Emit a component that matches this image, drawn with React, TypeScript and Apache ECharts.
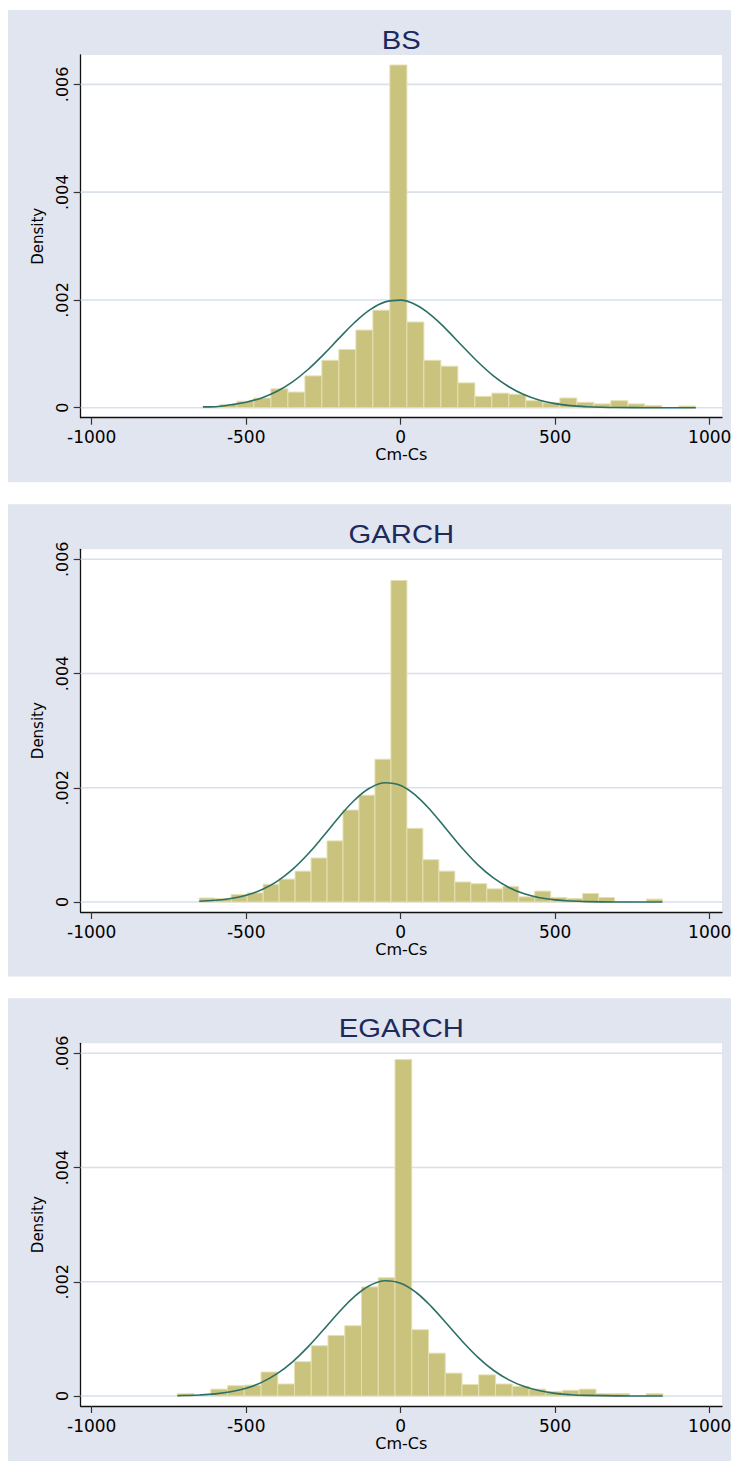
import React, { useEffect, useRef } from "react";
import * as echarts from "echarts";

// ---------- data ----------
const panelTitles = ["BS", "GARCH", "EGARCH"];
const xAxisName = "Cm-Cs";
const yAxisName = "Density";
const xTicks = [-1000, -500, 0, 500, 1000];
const yTicks = [0, 0.002, 0.004, 0.006];
const yTickLabels = ["0", ".002", ".004", ".006"];

// histogram bins: first edge and width of each bin (Cm-Cs units)
const binStarts = [-640, -652, -723];
const binWidths = [55, 51.7, 54.2];

const bsDensity = [
  0.00002, 0.00006, 0.00012, 0.00018, 0.00035, 0.00029, 0.00059, 0.00088, 0.00108, 0.00144,
  0.00181, 0.00636, 0.00159, 0.00088, 0.00077, 0.00046, 0.00021, 0.00027, 0.00025, 0.00013,
  0.00009, 0.00018, 0.0001, 0.00007, 0.00013, 0.00007, 0.00004, 0, 0.00003,
];
const garchDensity = [
  0.00007, 0.00006, 0.00013, 0.00016, 0.00031, 0.0004, 0.00054, 0.00077, 0.00107, 0.00161,
  0.00187, 0.0025, 0.00563, 0.00129, 0.00074, 0.00054, 0.00035, 0.00032, 0.00023, 0.00027,
  0.00009, 0.00019, 0.00008, 0.00006, 0.00015, 0.00008, 0.00001, 0, 0.00005,
];
const egarchDensity = [
  0.00004, 0, 0.00012, 0.00018, 0.00019, 0.00042, 0.00021, 0.0006, 0.00088, 0.00106,
  0.00123, 0.00191, 0.00207, 0.00589, 0.00116, 0.00075, 0.0004, 0.0002, 0.00037, 0.00021,
  0.00017, 0.00012, 0.00008, 0.0001, 0.00012, 0.00004, 0.00004, 0, 0.00004,
];

// normal density overlays
const bsCurveX = [-640, -600, -550, -500, -450, -400, -350, -300, -250, -200, -150, -100, -50, 0, 50, 100, 150, 200, 250, 300, 350, 400, 450, 500, 550, 600, 650, 700, 800, 955];
const bsCurveY = [0.0000144, 0.0000186, 0.0000537, 0.000102, 0.000182, 0.000305, 0.00048, 0.000709, 0.000985, 0.001286, 0.001576, 0.001815, 0.001964, 0.001996, 0.001906, 0.00171, 0.00144, 0.00114, 0.000848, 0.000592, 0.000389, 0.00024, 0.000139, 0.0000755, 0.0000386, 0.0000186, 0.0000084, 0.0000035, 0.0000004, 0];

const garchCurveX = [-652, -600, -550, -500, -450, -400, -350, -300, -250, -200, -150, -100, -50, 0, 50, 100, 150, 200, 250, 300, 350, 400, 450, 500, 550, 600, 700, 847];
const garchCurveY = [0.0000127, 0.0000293, 0.0000608, 0.000118, 0.000214, 0.000361, 0.00057, 0.000839, 0.001155, 0.001484, 0.001781, 0.001996, 0.002088, 0.00204, 0.00186, 0.001586, 0.001261, 0.000937, 0.000649, 0.000421, 0.000254, 0.000144, 0.0000757, 0.0000373, 0.0000171, 0.0000074, 0.0000011, 0];

const egarchCurveX = [-723, -700, -650, -600, -550, -500, -450, -400, -350, -300, -250, -200, -150, -100, -50, 0, 50, 100, 150, 200, 250, 300, 350, 400, 450, 500, 550, 600, 700, 848];
const egarchCurveY = [0.0000053, 0.0000078, 0.0000177, 0.0000374, 0.000074, 0.000137, 0.000239, 0.000391, 0.000599, 0.000861, 0.00116, 0.001467, 0.00174, 0.001935, 0.002018, 0.001975, 0.001812, 0.00156, 0.001259, 0.000954, 0.000677, 0.000451, 0.000282, 0.000165, 0.0000907, 0.0000467, 0.0000226, 0.0000102, 0.0000017, 0];

const densities = [bsDensity, garchDensity, egarchDensity];
const curvesX = [bsCurveX, garchCurveX, egarchCurveX];
const curvesY = [bsCurveY, garchCurveY, egarchCurveY];

// ---------- styles / layout ----------
const PAGE_W = 739;
const PAGE_H = 1463;
const BG = "#e1e5f0";
const GRIDLINE = "#d9e0ec";
const BAR_FILL = "#cac37d";
const BAR_EDGE = "#e4e0b2";
const CURVE = "#2c6f66";
const TITLE_COLOR = "#1c2a5c";
const FONT = "'DejaVu Sans', 'Liberation Sans', Arial, sans-serif";
const TITLE_FONT = "'Liberation Sans', Arial, sans-serif";

const panelTops = [10, 504.3, 998.3];
const plotLeft = 80.7;
const plotRight = 722;
const innerH = 342.7; // px from 0 to the axis max
const padPx = 10; // Stata plot-region margin
const xMin = -1035.6;
const xMax = 1039.8;

export default function App() {
  const ref = useRef<HTMLDivElement>(null);

  useEffect(() => {
    document.body.style.margin = "0";
    if (!ref.current) return;
    const chart = echarts.init(ref.current, undefined, { renderer: "svg" });

    const grids: any[] = [];
    const xAxes: any[] = [];
    const yAxes: any[] = [];
    const series: any[] = [];
    const graphics: any[] = [];

    for (let i = 0; i < 3; i++) {
      const top = panelTops[i];
      const dens = densities[i];
      const M = Math.max(0.006, Math.max(...dens));
      const pad = (padPx * M) / innerH;

      graphics.push({
        type: "rect",
        z: -10,
        silent: true,
        shape: { x: 8, y: top, width: 723, height: i === 2 ? PAGE_H - 2 - top : 472.3 },
        style: { fill: BG },
      });
      graphics.push({
        type: "text",
        z: 10,
        silent: true,
        x: (plotLeft + plotRight) / 2,
        y: top + 30,
        scaleX: 1.17,
        style: {
          text: panelTitles[i],
          fill: TITLE_COLOR,
          font: `25px ${TITLE_FONT}`,
          textAlign: "center",
          textVerticalAlign: "middle",
        },
      });

      grids.push({
        show: true,
        backgroundColor: "#ffffff",
        borderWidth: 0,
        left: plotLeft,
        width: plotRight - plotLeft,
        top: top + 45,
        height: innerH + 2 * padPx,
      });

      xAxes.push({
        gridIndex: i,
        type: "value",
        min: xMin,
        max: xMax,
        axisLine: { show: true, onZero: false, lineStyle: { color: "#111", width: 1.3 } },
        axisTick: { show: true, length: 7, customValues: xTicks, lineStyle: { color: "#333", width: 1.2 } },
        axisLabel: {
          customValues: xTicks,
          margin: 11,
          fontSize: 17,
          color: "#000",
          fontFamily: FONT,
          formatter: (v: number) => String(v),
        },
        splitLine: { show: false },
        name: xAxisName,
        nameLocation: "middle",
        nameGap: 29,
        nameTextStyle: { fontSize: 16, color: "#000", fontFamily: FONT },
      });

      yAxes.push({
        gridIndex: i,
        type: "value",
        min: -pad,
        max: M + pad,
        axisLine: { show: true, onZero: false, lineStyle: { color: "#111", width: 1.3 } },
        axisTick: { show: true, length: 7, customValues: yTicks, lineStyle: { color: "#333", width: 1.2 } },
        axisLabel: {
          customValues: yTicks,
          rotate: 90,
          margin: 10,
          fontSize: 16,
          color: "#000",
          fontFamily: FONT,
          formatter: (v: number) => {
            const k = yTicks.findIndex((t) => Math.abs(t - v) < 1e-9);
            return k >= 0 ? yTickLabels[k] : "";
          },
        },
        splitLine: { show: false },
        name: yAxisName,
        nameLocation: "middle",
        nameRotate: 90,
        nameGap: 35,
        nameTextStyle: { fontSize: 15, color: "#000", fontFamily: FONT },
      });

      // horizontal grid lines at the y ticks
      series.push({
        type: "custom",
        xAxisIndex: i,
        yAxisIndex: i,
        z: 1,
        silent: true,
        encode: { x: 0, y: 1 },
        data: yTicks.map((v) => [0, v]),
        renderItem: (params: any, api: any) => {
          const cs = params.coordSys;
          const y = api.coord([0, api.value(1)])[1];
          return {
            type: "line",
            shape: { x1: cs.x, y1: y, x2: cs.x + cs.width, y2: y },
            style: { stroke: GRIDLINE, lineWidth: 1.6 },
          };
        },
      });

      // histogram
      const start = binStarts[i];
      const w = binWidths[i];
      const barData = dens.map((h, k) => [start + k * w, start + (k + 1) * w, h]);
      series.push({
        type: "custom",
        xAxisIndex: i,
        yAxisIndex: i,
        z: 2,
        silent: true,
        encode: { x: [0, 1], y: 2 },
        data: barData,
        renderItem: (params: any, api: any) => {
          const h = api.value(2);
          if (!h) return null;
          const p0 = api.coord([api.value(0), h]);
          const p1 = api.coord([api.value(1), 0]);
          return {
            type: "rect",
            shape: { x: p0[0], y: p0[1], width: p1[0] - p0[0], height: p1[1] - p0[1] },
            style: { fill: BAR_FILL, stroke: BAR_EDGE, lineWidth: 1 },
          };
        },
      });

      // normal density curve
      series.push({
        type: "line",
        xAxisIndex: i,
        yAxisIndex: i,
        z: 3,
        silent: true,
        smooth: 0.4,
        showSymbol: false,
        symbol: "none",
        lineStyle: { color: CURVE, width: 1.6 },
        data: curvesX[i].map((x, k) => [x, curvesY[i][k]]),
      });
    }

    chart.setOption({
      animation: false,
      backgroundColor: "#ffffff",
      graphic: graphics,
      grid: grids,
      xAxis: xAxes,
      yAxis: yAxes,
      series,
    });

    return () => chart.dispose();
  }, []);

  return <div ref={ref} style={{ width: PAGE_W, height: PAGE_H }} />;
}
